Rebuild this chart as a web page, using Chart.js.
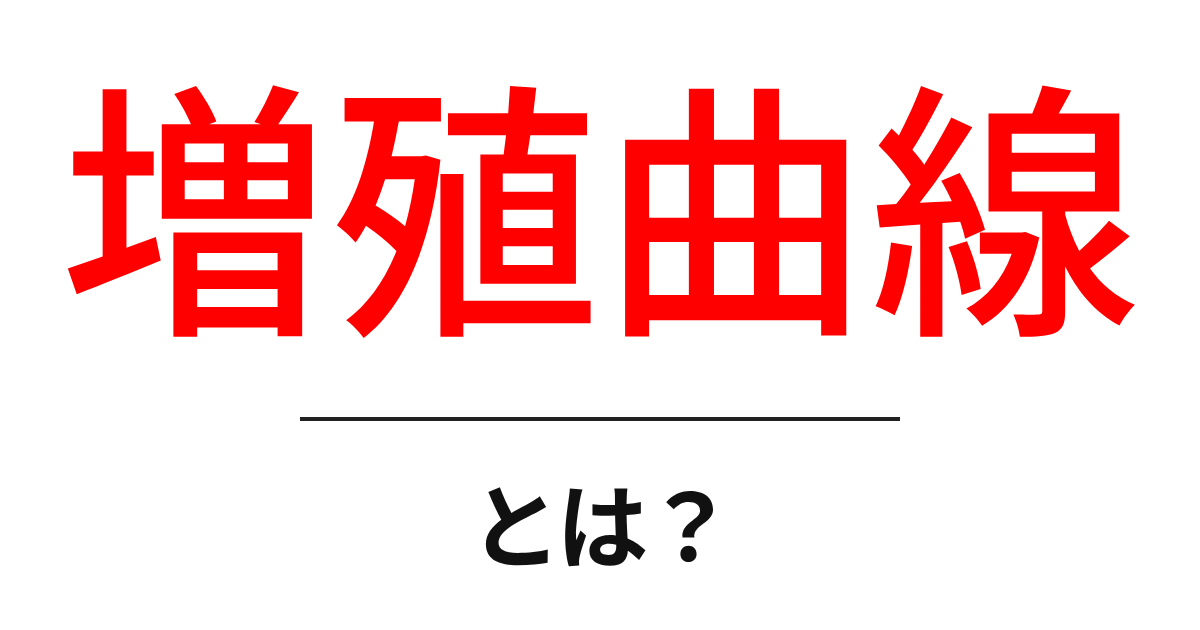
<!DOCTYPE html>
<html lang="ja">
<head>
<meta charset="utf-8">
<script src="https://cdn.jsdelivr.net/npm/chart.js@4.4.1/dist/chart.umd.min.js"></script>
<style>
  html, body { margin: 0; padding: 0; background: #ffffff; }
  body { width: 1200px; height: 630px; position: relative; overflow: hidden; }
  .title {
    position: absolute; left: 0; width: 1200px; text-align: center;
    font-family: "Noto Sans CJK JP", "Noto Sans", sans-serif;
    line-height: 1; white-space: nowrap;
  }
  #main { top: 62px; font-size: 270px; font-weight: 500; color: #ff0000; }
  #sub { top: 475px; font-size: 92px; font-weight: 700; color: #111111; letter-spacing: -5px; }
  #sepWrap { position: absolute; left: 300px; top: 409px; width: 600px; height: 20px; }
</style>
</head>
<body>
<div id="main" class="title">増殖曲線</div>
<div id="sepWrap"><canvas id="sep"></canvas></div>
<div id="sub" class="title">とは？</div>
<script>
const titleText = "増殖曲線";
const subText = "とは？";
const sepLabels = ["start", "end"];
const sepValues = [0, 0];

document.getElementById('main').textContent = titleText;
document.getElementById('sub').textContent = subText;

new Chart(document.getElementById('sep'), {
  type: 'line',
  data: {
    labels: sepLabels,
    datasets: [{
      data: sepValues,
      borderColor: '#222222',
      borderWidth: 4,
      pointRadius: 0,
      borderCapStyle: 'butt',
      fill: false
    }]
  },
  options: {
    responsive: true,
    maintainAspectRatio: false,
    animation: false,
    layout: { padding: 0 },
    plugins: { legend: { display: false }, tooltip: { enabled: false }, title: { display: false } },
    scales: {
      x: { display: false, offset: false },
      y: { display: false, min: -1, max: 1 }
    }
  }
});
</script>
</body>
</html>
